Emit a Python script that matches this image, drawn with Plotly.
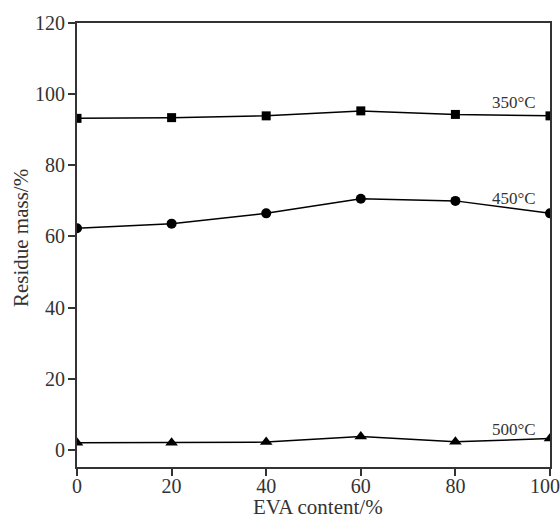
import plotly.graph_objects as go

eva = [0, 20, 40, 60, 80, 100]
x_ticktext = ["0", "20", "40", "60", "80", "100&nbsp;&nbsp;"]
r350 = [93.2, 93.4, 93.9, 95.3, 94.3, 93.9]
r450 = [62.3, 63.6, 66.5, 70.6, 70.0, 66.5]
r500 = [2.0, 2.0, 2.2, 3.8, 2.3, 3.2]
labels = ["350°C", "450°C", "500°C"]
label_y = [97.6, 70.8, 5.8]
x_title = "EVA content/%"
y_title = "Residue mass/%"

fig = go.Figure()
for ys, sym, sz in [(r350, "square", 9), (r450, "circle", 10), (r500, "triangle-up", 11)]:
    fig.add_trace(go.Scatter(x=eva, y=ys, mode="lines+markers",
                             line=dict(color="black", width=1.5),
                             marker=dict(symbol=sym, size=sz, color="black"),
                             showlegend=False, hoverinfo="skip"))
for t, yv in zip(labels, label_y):
    fig.add_annotation(x=97.5, y=yv, text=t, showarrow=False, xanchor="right",
                       font=dict(family="Liberation Serif", size=17, color="#333"))

fig.add_annotation(xref="paper", yref="paper", x=0.51, y=-0.091, text=x_title,
                   showarrow=False, xanchor="center", yanchor="middle",
                   font=dict(family="Liberation Serif", size=21, color="#333"))
fig.add_annotation(xref="paper", yref="paper", x=-0.118, y=0.516, text=y_title,
                   showarrow=False, textangle=-90, xanchor="center", yanchor="middle",
                   font=dict(family="Liberation Serif", size=21, color="#333"))

fig.update_layout(
    width=560, height=518,
    margin=dict(l=77, r=10, t=23, b=51),
    paper_bgcolor="white", plot_bgcolor="white",
    font=dict(family="Liberation Serif", size=20, color="#333"),
)
fig.update_xaxes(range=[0, 100], tickvals=eva, ticktext=x_ticktext, ticks="outside",
                 ticklen=7, tickwidth=1.5, tickcolor="#333", showline=True,
                 linecolor="#333", linewidth=2, mirror=True, showgrid=False,
                 zeroline=False, automargin=False, ticklabeloverflow="allow",
                 ticklabelstandoff=-7, tickfont=dict(size=20))
fig.update_yaxes(range=[-4.8, 120], tickvals=[0, 20, 40, 60, 80, 100, 120],
                 ticks="outside", ticklen=7, tickwidth=1.5, tickcolor="#333",
                 showline=True, linecolor="#333", linewidth=2, mirror=True,
                 showgrid=False, zeroline=False, automargin=False,
                 ticklabeloverflow="allow", ticklabelstandoff=-1, tickfont=dict(size=20))
fig.write_html("out.html", config={"displayModeBar": False},
               post_script="document.body.style.margin='0';document.body.style.overflow='hidden';")
